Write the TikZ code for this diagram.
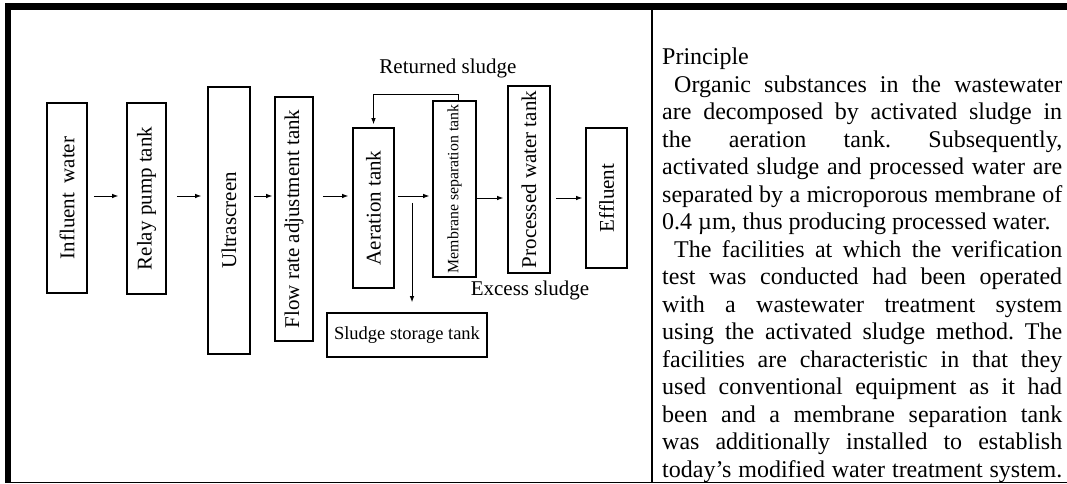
\documentclass[tikz,border=0pt]{standalone}
\usepackage{fontspec}
\usepackage{graphicx}
\setmainfont{Liberation Serif}
\usetikzlibrary{arrows.meta,calc,positioning}
\newcommand{\fullline}[1]{\makebox[400pt][s]{\frenchspacing\spaceskip=0pt\xspaceskip=0pt #1}}
\newcommand{\plainline}[1]{\makebox[400pt][l]{\frenchspacing\spaceskip=0pt\xspaceskip=0pt #1}}

\tikzset{
  tank/.style={draw, line width=1.6pt, inner sep=0pt, font=\fontsize{21}{25}\selectfont},
  flow/.style={-{Latex[length=6pt,width=4.5pt]}, line width=0.9pt},
  lbl/.style={inner sep=0pt, font=\fontsize{21}{25}\selectfont},
}

\begin{document}
\begin{tikzpicture}[x=1pt,y=1pt]
  \useasboundingbox (0,0) rectangle (1067,484);
  % frame
  \draw[line width=7pt] (5,477) -- (1067,477);
  \draw[line width=6pt] (8,480.5) -- (8,1);
  \draw[line width=1.5pt] (5,1.5) -- (1067,1.5);
  \draw[line width=2pt] (652,473.5) -- (652,1.5);
  % tanks
  \node[tank, minimum width=40pt, minimum height=190pt] (infl) at (67,286) {\rotatebox{90}{Influent\hspace{0.45em}water}};
  \node[tank, minimum width=39pt, minimum height=191pt] (relay) at (146.5,285.5) {\rotatebox{90}{Relay pump tank}};
  \node[tank, minimum width=42pt, minimum height=267pt] (ultra) at (229,263.5) {\rotatebox{90}{Ultrascreen}};
  \node[tank, minimum width=38pt, minimum height=244pt] (adjust) at (294,265) {\rotatebox{90}{Flow rate adjustment tank}};
  \node[tank, minimum width=41pt, minimum height=160pt] (aer) at (373.5,276) {\rotatebox{90}{Aeration tank}};
  \node[tank, minimum width=43pt, minimum height=176pt, font=\fontsize{15.8}{18}\selectfont] (memb) at (454.5,295) {\rotatebox{90}{Membrane separation tank}};
  \node[tank, minimum width=42pt, minimum height=187pt] (proc) at (529,304.5) {\rotatebox{90}{Processed water tank}};
  \node[tank, minimum width=41pt, minimum height=140pt] (effl) at (606.5,286) {\rotatebox{90}{Effluent}};
  \node[tank, minimum width=160pt, minimum height=44pt, font=\fontsize{18.5}{22}\selectfont] (store) at (407,149) {Sludge storage tank};
  \node[lbl] (retlbl) at (448,416) {Returned sludge};
  \node[lbl] (exclbl) at (530,194) {Excess sludge};
  % flow line
  \coordinate (lvl) at (0,288);
  \coordinate (lvlb) at (0,286);
  \coordinate (split) at (412,281);
  \draw[flow, shorten <=6pt, shorten >=8pt] (infl.east |- lvl) -- (relay.west |- lvl);
  \draw[flow, shorten <=10pt, shorten >=6pt] (relay.east |- lvl) -- (ultra.west |- lvl);
  \draw[flow, shorten <=3pt, shorten >=2pt] (ultra.east |- lvl) -- (adjust.west |- lvl);
  \draw[flow, shorten <=9pt, shorten >=4pt] (adjust.east |- lvl) -- (aer.west |- lvl);
  \draw[flow, shorten <=3pt, shorten >=3pt] (aer.east |- lvl) -- (memb.west |- lvl);
  \draw[flow, shorten >=4pt] (memb.east |- lvlb) -- (proc.west |- lvlb);
  \draw[flow, shorten <=5pt, shorten >=3pt] (proc.east |- lvlb) -- (effl.west |- lvlb);
  \draw[flow, shorten >=3pt] ([xshift=3.5pt]memb.north) -- ++(0,6) -| (aer.north);
  \draw[flow, shorten >=10pt] (split) -- (split |- store.north);
  % principle text
  \node[anchor=base west, inner sep=0pt, text width=400pt, align=left,
        font=\fontsize{24}{27.5}\selectfont] (principle) at (662,419) {%
    \plainline{Principle}\\
    \fullline{\hspace*{12pt}Organic substances in the wastewater}\\
    \fullline{are decomposed by activated sludge in}\\
    \fullline{the aeration tank. Subsequently,}\\
    \fullline{activated sludge and processed water are}\\
    \fullline{separated by a microporous membrane of}\\
    \plainline{0.4 µm, thus producing processed water.}\\
    \fullline{\hspace*{12pt}The facilities at which the verification}\\
    \fullline{test was conducted had been operated}\\
    \fullline{with a wastewater treatment system}\\
    \fullline{using the activated sludge method. The}\\
    \fullline{facilities are characteristic in that they}\\
    \fullline{used conventional equipment as it had}\\
    \fullline{been and a membrane separation tank}\\
    \fullline{was additionally installed to establish}\\
    \fullline{today’s modified water treatment system.}};
\end{tikzpicture}
\end{document}
